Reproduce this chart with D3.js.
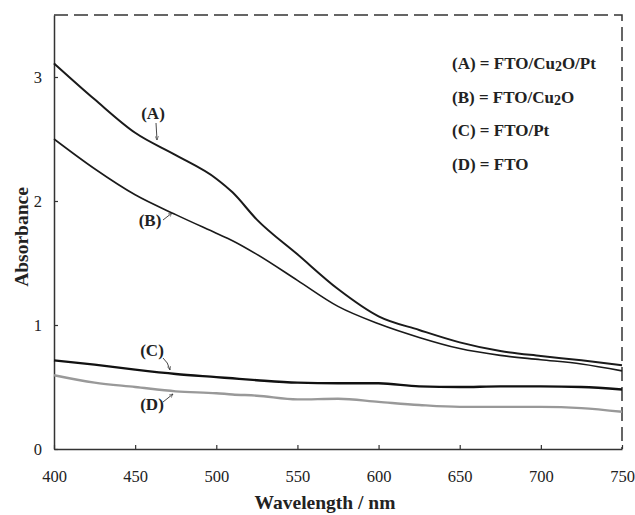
<!DOCTYPE html>
<html>
<head>
<meta charset="utf-8">
<script src="https://cdn.jsdelivr.net/npm/d3@7"></script>
<style>
  body { margin: 0; background: #fff; }
  svg { display: block; }
</style>
</head>
<body>
<svg id="chart" width="635" height="515"></svg>
<script>
// wavelengths (nm) and absorbance
var wavelengths = [400, 425, 450, 475, 500, 510, 525, 550, 575, 600, 625, 650, 675, 700, 725, 750];
var seriesA = [3.11, 2.82, 2.55, 2.37, 2.18, 2.07, 1.85, 1.57, 1.29, 1.07, 0.96, 0.86, 0.79, 0.75, 0.715, 0.675];
var seriesB = [2.50, 2.26, 2.05, 1.89, 1.74, 1.68, 1.57, 1.36, 1.15, 1.01, 0.90, 0.81, 0.755, 0.72, 0.685, 0.63];
var seriesC = [0.715, 0.68, 0.64, 0.605, 0.58, 0.57, 0.555, 0.535, 0.53, 0.53, 0.505, 0.50, 0.505, 0.505, 0.50, 0.48];
var seriesD = [0.595, 0.535, 0.50, 0.465, 0.45, 0.44, 0.43, 0.40, 0.405, 0.38, 0.355, 0.34, 0.34, 0.34, 0.33, 0.30];
var xTicks = [400, 450, 500, 550, 600, 650, 700, 750];
var yTicks = [0, 1, 2, 3];
var legendLabels = [["(A) = FTO/Cu", "2", "O/Pt"], ["(B) = FTO/Cu", "2", "O"], ["(C) = FTO/Pt"], ["(D) = FTO"]];

var margin = { top: 15, right: 13, bottom: 66, left: 54 };
var svg = d3.select("#chart");
var width = 635 - margin.left - margin.right;
var height = 515 - margin.top - margin.bottom;
var serif = "'Liberation Serif', 'DejaVu Serif', serif";

var xScale = d3.scaleLinear().domain([400, 750]).range([0, width]);
var yScale = d3.scaleLinear().domain([0, 3.5]).range([height, 0]);

var chart = svg.append("g")
    .attr("transform", `translate(${margin.left}, ${margin.top})`);

// dashed top & right frame
chart.append("path")
    .attr("d", `M0,0H${width}V${height}`)
    .attr("fill", "none")
    .attr("stroke", "#333")
    .attr("stroke-width", 1.5)
    .attr("stroke-dasharray", "14,6");

// axes with inward ticks
var xAxis = chart.append("g")
    .attr("transform", `translate(0, ${height})`)
    .call(d3.axisBottom(xScale).tickValues(xTicks).tickFormat(d3.format("d"))
        .tickSizeInner(-4).tickSizeOuter(0).tickPadding(21));
var yAxis = chart.append("g")
    .call(d3.axisLeft(yScale).tickValues(yTicks).tickFormat(d3.format("d"))
        .tickSizeInner(-4).tickSizeOuter(0).tickPadding(12));

[xAxis, yAxis].forEach(function (ax) {
    ax.select(".domain").attr("stroke", "#333").attr("stroke-width", 1.5);
    ax.selectAll(".tick line").attr("stroke", "#333").attr("stroke-width", 1.2);
    ax.selectAll("text")
        .attr("font-family", serif)
        .attr("font-size", "16.5px")
        .attr("fill", "#222");
});

// curves
var line = d3.line()
    .x(function (d) { return xScale(d[0]); })
    .y(function (d) { return yScale(d[1]); })
    .curve(d3.curveMonotoneX);

var curves = [
    { values: seriesA, color: "#1a1a1a", w: 2 },
    { values: seriesB, color: "#1a1a1a", w: 1.6 },
    { values: seriesC, color: "#111", w: 2.4 },
    { values: seriesD, color: "#999", w: 2.4 }
];
curves.forEach(function (c) {
    chart.append("path")
        .datum(wavelengths.map(function (w, i) { return [w, c.values[i]]; }))
        .attr("d", line)
        .attr("fill", "none")
        .attr("stroke", c.color)
        .attr("stroke-width", c.w);
});

// curve labels with little arrows
svg.append("defs").append("marker")
    .attr("id", "arr")
    .attr("viewBox", "0 0 10 10")
    .attr("refX", 9).attr("refY", 5)
    .attr("markerWidth", 5).attr("markerHeight", 5)
    .attr("orient", "auto")
    .append("path")
    .attr("d", "M0,1L9,5L0,9")
    .attr("fill", "none")
    .attr("stroke", "#333")
    .attr("stroke-width", 1.2);

var tags = [
    { t: "(A)", x: 153, y: 119, path: "M156,123 L157,140" },
    { t: "(B)", x: 150, y: 226, path: "M163,220 L172,213" },
    { t: "(C)", x: 152, y: 356, path: "M163,358 Q168,362 170,370" },
    { t: "(D)", x: 152, y: 410, path: "M163,402 L173,394" }
];
tags.forEach(function (d) {
    svg.append("text")
        .attr("x", d.x).attr("y", d.y)
        .attr("text-anchor", "middle")
        .attr("font-family", serif)
        .attr("font-weight", "bold")
        .attr("font-size", "17px")
        .attr("fill", "#222")
        .text(d.t);
    svg.append("path")
        .attr("d", d.path)
        .attr("fill", "none")
        .attr("stroke", "#333")
        .attr("stroke-width", 0.9)
        .attr("marker-end", "url(#arr)");
});

// legend text
legendLabels.forEach(function (parts, i) {
    var t = svg.append("text")
        .attr("x", 452)
        .attr("y", 69 + i * 33.5)
        .attr("font-family", serif)
        .attr("font-weight", "bold")
        .attr("font-size", "17px")
        .attr("fill", "#222");
    parts.forEach(function (p, j) {
        var ts = t.append("tspan").text(p);
        if (j == 1) ts.attr("font-size", "14px").attr("dy", 2);
        if (j == 2) ts.attr("dy", -2);
    });
});

// axis titles
svg.append("text")
    .attr("x", 325)
    .attr("y", 509)
    .attr("text-anchor", "middle")
    .attr("font-family", serif)
    .attr("font-weight", "bold")
    .attr("font-size", "19.5px")
    .attr("fill", "#222")
    .text("Wavelength / nm");

svg.append("text")
    .attr("transform", "translate(28, 237) rotate(-90)")
    .attr("text-anchor", "middle")
    .attr("font-family", serif)
    .attr("font-weight", "bold")
    .attr("font-size", "19.5px")
    .attr("fill", "#222")
    .text("Absorbance");
</script>
</body>
</html>
